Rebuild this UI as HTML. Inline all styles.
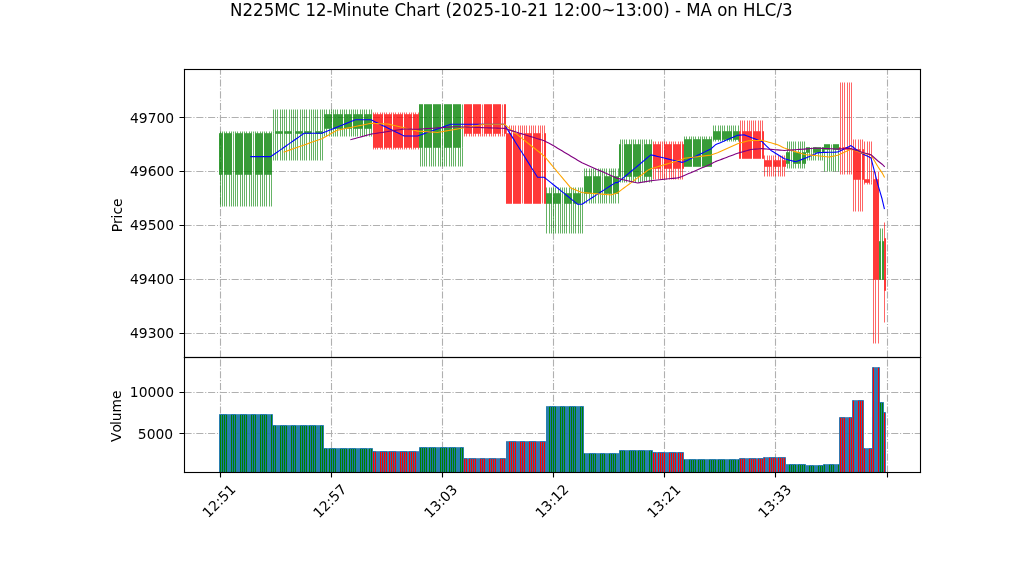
<!DOCTYPE html>
<html lang="en"><head><meta charset="utf-8"><title>N225MC 12-Minute Chart</title>
<style>html,body{margin:0;padding:0;background:#fff}svg{display:block}text{white-space:pre}</style>
</head><body>
<svg width="1022" height="575" viewBox="0 0 1022 575">
<defs><clipPath id="c1"><rect x="184" y="69" width="736" height="288"/></clipPath><clipPath id="c2"><rect x="184" y="357" width="736" height="115"/></clipPath></defs>
<rect width="1022" height="575" fill="#fff"/>
<g clip-path="url(#c1)" stroke="#b0b0b0" stroke-width="1.111" stroke-dasharray="7.111 1.778 1.111 1.778" fill="none">
<path d="M220.5 357.5V69.5"/>
<path d="M331.5 357.5V69.5"/>
<path d="M442.5 357.5V69.5"/>
<path d="M553.5 357.5V69.5"/>
<path d="M664.5 357.5V69.5"/>
<path d="M775.5 357.5V69.5"/>
<path d="M887.5 357.5V69.5"/>
<path d="M184.5 333.5H920.5"/>
<path d="M184.5 279.5H920.5"/>
<path d="M184.5 225.5H920.5"/>
<path d="M184.5 171.5H920.5"/>
<path d="M184.5 117.5H920.5"/>
</g>
<g clip-path="url(#c1)">
<g fill="#008000" fill-opacity="0.9" stroke="#008000" stroke-width="0.604" stroke-linejoin="miter">
<path d="M219.5 174.5V133.5H220.5V174.5Z"/>
<path d="M221.5 174.5V133.5H222.5V174.5Z"/>
<path d="M224.5 174.5V133.5H225.5V174.5Z"/>
<path d="M226.5 174.5V133.5H227.5V174.5Z"/>
<path d="M228.5 174.5V133.5H229.5V174.5Z"/>
<path d="M230.5 174.5V133.5H231.5V174.5Z"/>
<path d="M233.5 174.5V133.5"/>
<path d="M235.5 174.5V133.5H236.5V174.5Z"/>
<path d="M237.5 174.5V133.5H238.5V174.5Z"/>
<path d="M239.5 174.5V133.5H240.5V174.5Z"/>
<path d="M241.5 174.5V133.5H242.5V174.5Z"/>
<path d="M244.5 174.5V133.5H245.5V174.5Z"/>
<path d="M246.5 174.5V133.5H247.5V174.5Z"/>
<path d="M248.5 174.5V133.5H249.5V174.5Z"/>
<path d="M250.5 174.5V133.5H251.5V174.5Z"/>
<path d="M253.5 174.5V133.5"/>
<path d="M255.5 174.5V133.5H256.5V174.5Z"/>
<path d="M257.5 174.5V133.5H258.5V174.5Z"/>
<path d="M259.5 174.5V133.5H260.5V174.5Z"/>
<path d="M261.5 174.5V133.5H262.5V174.5Z"/>
<path d="M264.5 174.5V133.5H265.5V174.5Z"/>
<path d="M266.5 174.5V133.5H267.5V174.5Z"/>
<path d="M268.5 174.5V133.5H269.5V174.5Z"/>
<path d="M270.5 174.5V133.5H271.5V174.5Z"/>
<path d="M273.5 133.5V131.5"/>
<path d="M275.5 133.5V131.5H276.5V133.5Z"/>
<path d="M277.5 133.5V131.5H278.5V133.5Z"/>
<path d="M279.5 133.5V131.5H280.5V133.5Z"/>
<path d="M281.5 133.5V131.5H282.5V133.5Z"/>
<path d="M284.5 133.5V131.5H285.5V133.5Z"/>
<path d="M286.5 133.5V131.5H287.5V133.5Z"/>
<path d="M288.5 133.5V131.5H289.5V133.5Z"/>
<path d="M290.5 133.5V131.5H291.5V133.5Z"/>
<path d="M293.5 133.5V131.5"/>
<path d="M295.5 133.5V131.5H296.5V133.5Z"/>
<path d="M297.5 133.5V131.5H298.5V133.5Z"/>
<path d="M299.5 133.5V131.5H300.5V133.5Z"/>
<path d="M301.5 133.5V131.5H302.5V133.5Z"/>
<path d="M304.5 133.5V131.5H305.5V133.5Z"/>
<path d="M306.5 133.5V131.5H307.5V133.5Z"/>
<path d="M308.5 133.5V131.5H309.5V133.5Z"/>
<path d="M310.5 133.5V131.5H311.5V133.5Z"/>
<path d="M313.5 133.5V131.5"/>
<path d="M315.5 133.5V131.5H316.5V133.5Z"/>
<path d="M317.5 133.5V131.5H318.5V133.5Z"/>
<path d="M319.5 133.5V131.5H320.5V133.5Z"/>
<path d="M321.5 133.5V131.5H322.5V133.5Z"/>
<path d="M324.5 128.5V114.5H325.5V128.5Z"/>
<path d="M326.5 128.5V114.5H327.5V128.5Z"/>
<path d="M328.5 128.5V114.5H329.5V128.5Z"/>
<path d="M330.5 128.5V114.5H331.5V128.5Z"/>
<path d="M333.5 128.5V114.5H334.5V128.5Z"/>
<path d="M335.5 128.5V114.5H336.5V128.5Z"/>
<path d="M337.5 128.5V114.5H338.5V128.5Z"/>
<path d="M339.5 128.5V114.5H340.5V128.5Z"/>
<path d="M341.5 128.5V114.5H342.5V128.5Z"/>
<path d="M344.5 128.5V114.5H345.5V128.5Z"/>
<path d="M346.5 128.5V114.5H347.5V128.5Z"/>
<path d="M348.5 128.5V114.5H349.5V128.5Z"/>
<path d="M350.5 128.5V114.5H351.5V128.5Z"/>
<path d="M353.5 128.5V114.5H354.5V128.5Z"/>
<path d="M355.5 128.5V114.5H356.5V128.5Z"/>
<path d="M357.5 128.5V114.5H358.5V128.5Z"/>
<path d="M359.5 128.5V114.5H360.5V128.5Z"/>
<path d="M361.5 128.5V114.5H362.5V128.5Z"/>
<path d="M364.5 128.5V114.5H365.5V128.5Z"/>
<path d="M366.5 128.5V114.5H367.5V128.5Z"/>
<path d="M368.5 128.5V114.5H369.5V128.5Z"/>
<path d="M370.5 128.5V114.5H371.5V128.5Z"/>
<path d="M419.5 147.5V104.5H420.5V147.5Z"/>
<path d="M421.5 147.5V104.5H422.5V147.5Z"/>
<path d="M424.5 147.5V104.5H425.5V147.5Z"/>
<path d="M426.5 147.5V104.5H427.5V147.5Z"/>
<path d="M428.5 147.5V104.5H429.5V147.5Z"/>
<path d="M430.5 147.5V104.5H431.5V147.5Z"/>
<path d="M433.5 147.5V104.5H434.5V147.5Z"/>
<path d="M435.5 147.5V104.5H436.5V147.5Z"/>
<path d="M437.5 147.5V104.5H438.5V147.5Z"/>
<path d="M439.5 147.5V104.5H440.5V147.5Z"/>
<path d="M442.5 147.5V104.5"/>
<path d="M444.5 147.5V104.5H445.5V147.5Z"/>
<path d="M446.5 147.5V104.5H447.5V147.5Z"/>
<path d="M448.5 147.5V104.5H449.5V147.5Z"/>
<path d="M450.5 147.5V104.5H451.5V147.5Z"/>
<path d="M453.5 147.5V104.5H454.5V147.5Z"/>
<path d="M455.5 147.5V104.5H456.5V147.5Z"/>
<path d="M457.5 147.5V104.5H458.5V147.5Z"/>
<path d="M459.5 147.5V104.5H460.5V147.5Z"/>
<path d="M462.5 147.5V104.5"/>
<path d="M546.5 203.5V193.5H547.5V203.5Z"/>
<path d="M548.5 203.5V193.5H549.5V203.5Z"/>
<path d="M550.5 203.5V193.5H551.5V203.5Z"/>
<path d="M553.5 203.5V193.5H554.5V203.5Z"/>
<path d="M555.5 203.5V193.5H556.5V203.5Z"/>
<path d="M557.5 203.5V193.5H558.5V203.5Z"/>
<path d="M559.5 203.5V193.5H560.5V203.5Z"/>
<path d="M562.5 203.5V193.5"/>
<path d="M564.5 203.5V193.5H565.5V203.5Z"/>
<path d="M566.5 203.5V193.5H567.5V203.5Z"/>
<path d="M568.5 203.5V193.5H569.5V203.5Z"/>
<path d="M570.5 203.5V193.5H571.5V203.5Z"/>
<path d="M573.5 203.5V193.5H574.5V203.5Z"/>
<path d="M575.5 203.5V193.5H576.5V203.5Z"/>
<path d="M577.5 203.5V193.5H578.5V203.5Z"/>
<path d="M579.5 203.5V193.5H580.5V203.5Z"/>
<path d="M582.5 203.5V193.5"/>
<path d="M584.5 193.5V176.5H585.5V193.5Z"/>
<path d="M586.5 193.5V176.5H587.5V193.5Z"/>
<path d="M588.5 193.5V176.5H589.5V193.5Z"/>
<path d="M590.5 193.5V176.5H591.5V193.5Z"/>
<path d="M593.5 193.5V176.5H594.5V193.5Z"/>
<path d="M595.5 193.5V176.5H596.5V193.5Z"/>
<path d="M597.5 193.5V176.5H598.5V193.5Z"/>
<path d="M599.5 193.5V176.5H600.5V193.5Z"/>
<path d="M602.5 193.5V176.5"/>
<path d="M604.5 193.5V176.5H605.5V193.5Z"/>
<path d="M606.5 193.5V176.5H607.5V193.5Z"/>
<path d="M608.5 193.5V176.5H609.5V193.5Z"/>
<path d="M610.5 193.5V176.5H611.5V193.5Z"/>
<path d="M613.5 193.5V176.5H614.5V193.5Z"/>
<path d="M615.5 193.5V176.5H616.5V193.5Z"/>
<path d="M617.5 193.5V176.5H618.5V193.5Z"/>
<path d="M619.5 176.5V144.5H620.5V176.5Z"/>
<path d="M622.5 176.5V144.5"/>
<path d="M624.5 176.5V144.5H625.5V176.5Z"/>
<path d="M626.5 176.5V144.5H627.5V176.5Z"/>
<path d="M628.5 176.5V144.5H629.5V176.5Z"/>
<path d="M630.5 176.5V144.5H631.5V176.5Z"/>
<path d="M633.5 176.5V144.5H634.5V176.5Z"/>
<path d="M635.5 176.5V144.5H636.5V176.5Z"/>
<path d="M637.5 176.5V144.5H638.5V176.5Z"/>
<path d="M639.5 176.5V144.5H640.5V176.5Z"/>
<path d="M642.5 176.5V144.5"/>
<path d="M644.5 176.5V144.5H645.5V176.5Z"/>
<path d="M646.5 176.5V144.5H647.5V176.5Z"/>
<path d="M648.5 176.5V144.5H649.5V176.5Z"/>
<path d="M650.5 176.5V144.5H651.5V176.5Z"/>
<path d="M684.5 166.5V139.5H685.5V166.5Z"/>
<path d="M686.5 166.5V139.5H687.5V166.5Z"/>
<path d="M688.5 166.5V139.5H689.5V166.5Z"/>
<path d="M690.5 166.5V139.5H691.5V166.5Z"/>
<path d="M693.5 166.5V139.5H694.5V166.5Z"/>
<path d="M695.5 166.5V139.5H696.5V166.5Z"/>
<path d="M697.5 166.5V139.5H698.5V166.5Z"/>
<path d="M699.5 166.5V139.5H700.5V166.5Z"/>
<path d="M702.5 166.5V139.5H703.5V166.5Z"/>
<path d="M704.5 166.5V139.5H705.5V166.5Z"/>
<path d="M706.5 166.5V139.5H707.5V166.5Z"/>
<path d="M708.5 166.5V139.5H709.5V166.5Z"/>
<path d="M710.5 166.5V139.5H711.5V166.5Z"/>
<path d="M713.5 139.5V131.5H714.5V139.5Z"/>
<path d="M715.5 139.5V131.5H716.5V139.5Z"/>
<path d="M717.5 139.5V131.5H718.5V139.5Z"/>
<path d="M719.5 139.5V131.5H720.5V139.5Z"/>
<path d="M722.5 139.5V131.5H723.5V139.5Z"/>
<path d="M724.5 139.5V131.5H725.5V139.5Z"/>
<path d="M726.5 139.5V131.5H727.5V139.5Z"/>
<path d="M728.5 139.5V131.5H729.5V139.5Z"/>
<path d="M730.5 139.5V131.5H731.5V139.5Z"/>
<path d="M733.5 139.5V131.5H734.5V139.5Z"/>
<path d="M735.5 139.5V131.5H736.5V139.5Z"/>
<path d="M737.5 139.5V131.5H738.5V139.5Z"/>
<path d="M786.5 163.5V152.5H787.5V163.5Z"/>
<path d="M788.5 163.5V152.5H789.5V163.5Z"/>
<path d="M791.5 163.5V152.5"/>
<path d="M793.5 163.5V152.5H794.5V163.5Z"/>
<path d="M795.5 163.5V152.5H796.5V163.5Z"/>
<path d="M797.5 163.5V152.5H798.5V163.5Z"/>
<path d="M799.5 163.5V152.5H800.5V163.5Z"/>
<path d="M802.5 163.5V152.5H803.5V163.5Z"/>
<path d="M804.5 163.5V152.5H805.5V163.5Z"/>
<path d="M806.5 152.5V147.5H807.5V152.5Z"/>
<path d="M808.5 152.5V147.5H809.5V152.5Z"/>
<path d="M811.5 152.5V147.5"/>
<path d="M813.5 152.5V147.5H814.5V152.5Z"/>
<path d="M815.5 152.5V147.5H816.5V152.5Z"/>
<path d="M817.5 152.5V147.5H818.5V152.5Z"/>
<path d="M819.5 152.5V147.5H820.5V152.5Z"/>
<path d="M822.5 152.5V147.5H823.5V152.5Z"/>
<path d="M824.5 149.5V144.5H825.5V149.5Z"/>
<path d="M826.5 149.5V144.5H827.5V149.5Z"/>
<path d="M828.5 149.5V144.5H829.5V149.5Z"/>
<path d="M831.5 149.5V144.5"/>
<path d="M833.5 149.5V144.5H834.5V149.5Z"/>
<path d="M835.5 149.5V144.5H836.5V149.5Z"/>
<path d="M837.5 149.5V144.5H838.5V149.5Z"/>
<path d="M879.5 279.5V241.5H880.5V279.5Z"/>
<path d="M882.5 279.5V241.5H883.5V279.5Z"/>
</g>
<g fill="#ff0000" fill-opacity="0.9" stroke="#ff0000" stroke-width="0.604" stroke-linejoin="miter">
<path d="M373.5 114.5V147.5H374.5V114.5Z"/>
<path d="M375.5 114.5V147.5H376.5V114.5Z"/>
<path d="M377.5 114.5V147.5H378.5V114.5Z"/>
<path d="M379.5 114.5V147.5H380.5V114.5Z"/>
<path d="M381.5 114.5V147.5H382.5V114.5Z"/>
<path d="M384.5 114.5V147.5H385.5V114.5Z"/>
<path d="M386.5 114.5V147.5H387.5V114.5Z"/>
<path d="M388.5 114.5V147.5H389.5V114.5Z"/>
<path d="M390.5 114.5V147.5H391.5V114.5Z"/>
<path d="M393.5 114.5V147.5H394.5V114.5Z"/>
<path d="M395.5 114.5V147.5H396.5V114.5Z"/>
<path d="M397.5 114.5V147.5H398.5V114.5Z"/>
<path d="M399.5 114.5V147.5H400.5V114.5Z"/>
<path d="M401.5 114.5V147.5H402.5V114.5Z"/>
<path d="M404.5 114.5V147.5H405.5V114.5Z"/>
<path d="M406.5 114.5V147.5H407.5V114.5Z"/>
<path d="M408.5 114.5V147.5H409.5V114.5Z"/>
<path d="M410.5 114.5V147.5H411.5V114.5Z"/>
<path d="M413.5 114.5V147.5H414.5V114.5Z"/>
<path d="M415.5 114.5V147.5H416.5V114.5Z"/>
<path d="M417.5 114.5V147.5H418.5V114.5Z"/>
<path d="M464.5 104.5V133.5H465.5V104.5Z"/>
<path d="M466.5 104.5V133.5H467.5V104.5Z"/>
<path d="M468.5 104.5V133.5H469.5V104.5Z"/>
<path d="M470.5 104.5V133.5H471.5V104.5Z"/>
<path d="M473.5 104.5V133.5H474.5V104.5Z"/>
<path d="M475.5 104.5V133.5H476.5V104.5Z"/>
<path d="M477.5 104.5V133.5H478.5V104.5Z"/>
<path d="M479.5 104.5V133.5H480.5V104.5Z"/>
<path d="M482.5 104.5V133.5"/>
<path d="M484.5 104.5V133.5H485.5V104.5Z"/>
<path d="M486.5 104.5V133.5H487.5V104.5Z"/>
<path d="M488.5 104.5V133.5H489.5V104.5Z"/>
<path d="M490.5 104.5V133.5H491.5V104.5Z"/>
<path d="M493.5 104.5V133.5H494.5V104.5Z"/>
<path d="M495.5 104.5V133.5H496.5V104.5Z"/>
<path d="M497.5 104.5V133.5H498.5V104.5Z"/>
<path d="M499.5 104.5V133.5H500.5V104.5Z"/>
<path d="M502.5 104.5V133.5"/>
<path d="M504.5 104.5V133.5H505.5V104.5Z"/>
<path d="M506.5 133.5V203.5H507.5V133.5Z"/>
<path d="M508.5 133.5V203.5H509.5V133.5Z"/>
<path d="M510.5 133.5V203.5H511.5V133.5Z"/>
<path d="M513.5 133.5V203.5H514.5V133.5Z"/>
<path d="M515.5 133.5V203.5H516.5V133.5Z"/>
<path d="M517.5 133.5V203.5H518.5V133.5Z"/>
<path d="M519.5 133.5V203.5H520.5V133.5Z"/>
<path d="M522.5 133.5V203.5"/>
<path d="M524.5 133.5V203.5H525.5V133.5Z"/>
<path d="M526.5 133.5V203.5H527.5V133.5Z"/>
<path d="M528.5 133.5V203.5H529.5V133.5Z"/>
<path d="M530.5 133.5V203.5H531.5V133.5Z"/>
<path d="M533.5 133.5V203.5H534.5V133.5Z"/>
<path d="M535.5 133.5V203.5H536.5V133.5Z"/>
<path d="M537.5 133.5V203.5H538.5V133.5Z"/>
<path d="M539.5 133.5V203.5H540.5V133.5Z"/>
<path d="M542.5 133.5V203.5"/>
<path d="M544.5 133.5V203.5H545.5V133.5Z"/>
<path d="M653.5 144.5V168.5H654.5V144.5Z"/>
<path d="M655.5 144.5V168.5H656.5V144.5Z"/>
<path d="M657.5 144.5V168.5H658.5V144.5Z"/>
<path d="M659.5 144.5V168.5H660.5V144.5Z"/>
<path d="M662.5 144.5V168.5"/>
<path d="M664.5 144.5V168.5H665.5V144.5Z"/>
<path d="M666.5 144.5V168.5H667.5V144.5Z"/>
<path d="M668.5 144.5V168.5H669.5V144.5Z"/>
<path d="M670.5 144.5V168.5H671.5V144.5Z"/>
<path d="M673.5 144.5V168.5H674.5V144.5Z"/>
<path d="M675.5 144.5V168.5H676.5V144.5Z"/>
<path d="M677.5 144.5V168.5H678.5V144.5Z"/>
<path d="M679.5 144.5V168.5H680.5V144.5Z"/>
<path d="M682.5 144.5V168.5H683.5V144.5Z"/>
<path d="M739.5 131.5V158.5H740.5V131.5Z"/>
<path d="M742.5 131.5V158.5H743.5V131.5Z"/>
<path d="M744.5 131.5V158.5H745.5V131.5Z"/>
<path d="M746.5 131.5V158.5H747.5V131.5Z"/>
<path d="M748.5 131.5V158.5H749.5V131.5Z"/>
<path d="M750.5 131.5V158.5H751.5V131.5Z"/>
<path d="M753.5 131.5V158.5H754.5V131.5Z"/>
<path d="M755.5 131.5V158.5H756.5V131.5Z"/>
<path d="M757.5 131.5V158.5H758.5V131.5Z"/>
<path d="M759.5 131.5V158.5H760.5V131.5Z"/>
<path d="M762.5 131.5V158.5H763.5V131.5Z"/>
<path d="M764.5 160.5V166.5H765.5V160.5Z"/>
<path d="M766.5 160.5V166.5H767.5V160.5Z"/>
<path d="M768.5 160.5V166.5H769.5V160.5Z"/>
<path d="M770.5 160.5V166.5H771.5V160.5Z"/>
<path d="M773.5 160.5V166.5H774.5V160.5Z"/>
<path d="M775.5 160.5V166.5H776.5V160.5Z"/>
<path d="M777.5 160.5V166.5H778.5V160.5Z"/>
<path d="M779.5 160.5V166.5H780.5V160.5Z"/>
<path d="M782.5 160.5V166.5H783.5V160.5Z"/>
<path d="M784.5 160.5V166.5H785.5V160.5Z"/>
<path d="M839.5 147.5V149.5H840.5V147.5Z"/>
<path d="M842.5 147.5V149.5H843.5V147.5Z"/>
<path d="M844.5 147.5V149.5H845.5V147.5Z"/>
<path d="M846.5 147.5V149.5H847.5V147.5Z"/>
<path d="M848.5 147.5V149.5H849.5V147.5Z"/>
<path d="M851.5 147.5V149.5"/>
<path d="M853.5 149.5V179.5H854.5V149.5Z"/>
<path d="M855.5 149.5V179.5H856.5V149.5Z"/>
<path d="M857.5 149.5V179.5H858.5V149.5Z"/>
<path d="M859.5 149.5V179.5H860.5V149.5Z"/>
<path d="M862.5 149.5V179.5H863.5V149.5Z"/>
<path d="M864.5 179.5V182.5H865.5V179.5Z"/>
<path d="M866.5 179.5V182.5H867.5V179.5Z"/>
<path d="M868.5 179.5V182.5H869.5V179.5Z"/>
<path d="M871.5 179.5V182.5"/>
<path d="M873.5 179.5V279.5H874.5V179.5Z"/>
<path d="M875.5 179.5V279.5H876.5V179.5Z"/>
<path d="M877.5 179.5V279.5H878.5V179.5Z"/>
<path d="M884.5 238.5V290.5H885.5V238.5Z"/>
</g>
<path fill="none" stroke="#008000" stroke-width="0.604" d="M220.5 206.5V174.5M220.5 131.5V133.5M222.5 206.5V174.5M222.5 131.5V133.5M224.5 206.5V174.5M224.5 131.5V133.5M226.5 206.5V174.5M226.5 131.5V133.5M229.5 206.5V174.5M229.5 131.5V133.5M231.5 206.5V174.5M231.5 131.5V133.5M233.5 206.5V174.5M233.5 131.5V133.5M235.5 206.5V174.5M235.5 131.5V133.5M237.5 206.5V174.5M237.5 131.5V133.5M240.5 206.5V174.5M240.5 131.5V133.5M242.5 206.5V174.5M242.5 131.5V133.5M244.5 206.5V174.5M244.5 131.5V133.5M246.5 206.5V174.5M246.5 131.5V133.5M249.5 206.5V174.5M249.5 131.5V133.5M251.5 206.5V174.5M251.5 131.5V133.5M253.5 206.5V174.5M253.5 131.5V133.5M255.5 206.5V174.5M255.5 131.5V133.5M257.5 206.5V174.5M257.5 131.5V133.5M260.5 206.5V174.5M260.5 131.5V133.5M262.5 206.5V174.5M262.5 131.5V133.5M264.5 206.5V174.5M264.5 131.5V133.5M266.5 206.5V174.5M266.5 131.5V133.5M269.5 206.5V174.5M269.5 131.5V133.5M271.5 206.5V174.5M271.5 131.5V133.5M273.5 160.5V133.5M273.5 109.5V131.5M275.5 160.5V133.5M275.5 109.5V131.5M277.5 160.5V133.5M277.5 109.5V131.5M280.5 160.5V133.5M280.5 109.5V131.5M282.5 160.5V133.5M282.5 109.5V131.5M284.5 160.5V133.5M284.5 109.5V131.5M286.5 160.5V133.5M286.5 109.5V131.5M289.5 160.5V133.5M289.5 109.5V131.5M291.5 160.5V133.5M291.5 109.5V131.5M293.5 160.5V133.5M293.5 109.5V131.5M295.5 160.5V133.5M295.5 109.5V131.5M297.5 160.5V133.5M297.5 109.5V131.5M300.5 160.5V133.5M300.5 109.5V131.5M302.5 160.5V133.5M302.5 109.5V131.5M304.5 160.5V133.5M304.5 109.5V131.5M306.5 160.5V133.5M306.5 109.5V131.5M309.5 160.5V133.5M309.5 109.5V131.5M311.5 160.5V133.5M311.5 109.5V131.5M313.5 160.5V133.5M313.5 109.5V131.5M315.5 160.5V133.5M315.5 109.5V131.5M317.5 160.5V133.5M317.5 109.5V131.5M320.5 160.5V133.5M320.5 109.5V131.5M322.5 160.5V133.5M322.5 109.5V131.5M324.5 136.5V128.5M324.5 109.5V114.5M326.5 136.5V128.5M326.5 109.5V114.5M329.5 136.5V128.5M329.5 109.5V114.5M331.5 136.5V128.5M331.5 109.5V114.5M333.5 136.5V128.5M333.5 109.5V114.5M335.5 136.5V128.5M335.5 109.5V114.5M337.5 136.5V128.5M337.5 109.5V114.5M340.5 136.5V128.5M340.5 109.5V114.5M342.5 136.5V128.5M342.5 109.5V114.5M344.5 136.5V128.5M344.5 109.5V114.5M346.5 136.5V128.5M346.5 109.5V114.5M349.5 136.5V128.5M349.5 109.5V114.5M351.5 136.5V128.5M351.5 109.5V114.5M353.5 136.5V128.5M353.5 109.5V114.5M355.5 136.5V128.5M355.5 109.5V114.5M357.5 136.5V128.5M357.5 109.5V114.5M360.5 136.5V128.5M360.5 109.5V114.5M362.5 136.5V128.5M362.5 109.5V114.5M364.5 136.5V128.5M364.5 109.5V114.5M366.5 136.5V128.5M366.5 109.5V114.5M369.5 136.5V128.5M369.5 109.5V114.5M371.5 136.5V128.5M371.5 109.5V114.5M420.5 166.5V147.5M422.5 166.5V147.5M424.5 166.5V147.5M426.5 166.5V147.5M429.5 166.5V147.5M431.5 166.5V147.5M433.5 166.5V147.5M435.5 166.5V147.5M438.5 166.5V147.5M440.5 166.5V147.5M442.5 166.5V147.5M444.5 166.5V147.5M446.5 166.5V147.5M449.5 166.5V147.5M451.5 166.5V147.5M453.5 166.5V147.5M455.5 166.5V147.5M458.5 166.5V147.5M460.5 166.5V147.5M462.5 166.5V147.5M546.5 233.5V203.5M546.5 187.5V193.5M549.5 233.5V203.5M549.5 187.5V193.5M551.5 233.5V203.5M551.5 187.5V193.5M553.5 233.5V203.5M553.5 187.5V193.5M555.5 233.5V203.5M555.5 187.5V193.5M558.5 233.5V203.5M558.5 187.5V193.5M560.5 233.5V203.5M560.5 187.5V193.5M562.5 233.5V203.5M562.5 187.5V193.5M564.5 233.5V203.5M564.5 187.5V193.5M566.5 233.5V203.5M566.5 187.5V193.5M569.5 233.5V203.5M569.5 187.5V193.5M571.5 233.5V203.5M571.5 187.5V193.5M573.5 233.5V203.5M573.5 187.5V193.5M575.5 233.5V203.5M575.5 187.5V193.5M578.5 233.5V203.5M578.5 187.5V193.5M580.5 233.5V203.5M580.5 187.5V193.5M582.5 233.5V203.5M582.5 187.5V193.5M584.5 203.5V193.5M584.5 168.5V176.5M586.5 203.5V193.5M586.5 168.5V176.5M589.5 203.5V193.5M589.5 168.5V176.5M591.5 203.5V193.5M591.5 168.5V176.5M593.5 203.5V193.5M593.5 168.5V176.5M595.5 203.5V193.5M595.5 168.5V176.5M598.5 203.5V193.5M598.5 168.5V176.5M600.5 203.5V193.5M600.5 168.5V176.5M602.5 203.5V193.5M602.5 168.5V176.5M604.5 203.5V193.5M604.5 168.5V176.5M606.5 203.5V193.5M606.5 168.5V176.5M609.5 203.5V193.5M609.5 168.5V176.5M611.5 203.5V193.5M611.5 168.5V176.5M613.5 203.5V193.5M613.5 168.5V176.5M615.5 203.5V193.5M615.5 168.5V176.5M618.5 203.5V193.5M618.5 168.5V176.5M620.5 182.5V176.5M620.5 139.5V144.5M622.5 182.5V176.5M622.5 139.5V144.5M624.5 182.5V176.5M624.5 139.5V144.5M626.5 182.5V176.5M626.5 139.5V144.5M629.5 182.5V176.5M629.5 139.5V144.5M631.5 182.5V176.5M631.5 139.5V144.5M633.5 182.5V176.5M633.5 139.5V144.5M635.5 182.5V176.5M635.5 139.5V144.5M638.5 182.5V176.5M638.5 139.5V144.5M640.5 182.5V176.5M640.5 139.5V144.5M642.5 182.5V176.5M642.5 139.5V144.5M644.5 182.5V176.5M644.5 139.5V144.5M646.5 182.5V176.5M646.5 139.5V144.5M649.5 182.5V176.5M649.5 139.5V144.5M651.5 182.5V176.5M651.5 139.5V144.5M684.5 136.5V139.5M686.5 136.5V139.5M689.5 136.5V139.5M691.5 136.5V139.5M693.5 136.5V139.5M695.5 136.5V139.5M698.5 136.5V139.5M700.5 136.5V139.5M702.5 136.5V139.5M704.5 136.5V139.5M706.5 136.5V139.5M709.5 136.5V139.5M711.5 136.5V139.5M713.5 141.5V139.5M713.5 125.5V131.5M715.5 141.5V139.5M715.5 125.5V131.5M718.5 141.5V139.5M718.5 125.5V131.5M720.5 141.5V139.5M720.5 125.5V131.5M722.5 141.5V139.5M722.5 125.5V131.5M724.5 141.5V139.5M724.5 125.5V131.5M727.5 141.5V139.5M727.5 125.5V131.5M729.5 141.5V139.5M729.5 125.5V131.5M731.5 141.5V139.5M731.5 125.5V131.5M733.5 141.5V139.5M733.5 125.5V131.5M735.5 141.5V139.5M735.5 125.5V131.5M738.5 141.5V139.5M738.5 125.5V131.5M787.5 168.5V163.5M787.5 141.5V152.5M789.5 168.5V163.5M789.5 141.5V152.5M791.5 168.5V163.5M791.5 141.5V152.5M793.5 168.5V163.5M793.5 141.5V152.5M795.5 168.5V163.5M795.5 141.5V152.5M798.5 168.5V163.5M798.5 141.5V152.5M800.5 168.5V163.5M800.5 141.5V152.5M802.5 168.5V163.5M802.5 141.5V152.5M804.5 168.5V163.5M804.5 141.5V152.5M807.5 160.5V152.5M809.5 160.5V152.5M811.5 160.5V152.5M813.5 160.5V152.5M815.5 160.5V152.5M818.5 160.5V152.5M820.5 160.5V152.5M822.5 160.5V152.5M824.5 171.5V149.5M827.5 171.5V149.5M829.5 171.5V149.5M831.5 171.5V149.5M833.5 171.5V149.5M835.5 171.5V149.5M838.5 171.5V149.5M880.5 228.5V241.5M882.5 228.5V241.5"/>
<path fill="none" stroke="#ff0000" stroke-width="0.604" d="M373.5 149.5V147.5M373.5 112.5V114.5M375.5 149.5V147.5M375.5 112.5V114.5M377.5 149.5V147.5M377.5 112.5V114.5M380.5 149.5V147.5M380.5 112.5V114.5M382.5 149.5V147.5M382.5 112.5V114.5M384.5 149.5V147.5M384.5 112.5V114.5M386.5 149.5V147.5M386.5 112.5V114.5M389.5 149.5V147.5M389.5 112.5V114.5M391.5 149.5V147.5M391.5 112.5V114.5M393.5 149.5V147.5M393.5 112.5V114.5M395.5 149.5V147.5M395.5 112.5V114.5M398.5 149.5V147.5M398.5 112.5V114.5M400.5 149.5V147.5M400.5 112.5V114.5M402.5 149.5V147.5M402.5 112.5V114.5M404.5 149.5V147.5M404.5 112.5V114.5M406.5 149.5V147.5M406.5 112.5V114.5M409.5 149.5V147.5M409.5 112.5V114.5M411.5 149.5V147.5M411.5 112.5V114.5M413.5 149.5V147.5M413.5 112.5V114.5M415.5 149.5V147.5M415.5 112.5V114.5M418.5 149.5V147.5M418.5 112.5V114.5M464.5 136.5V133.5M466.5 136.5V133.5M469.5 136.5V133.5M471.5 136.5V133.5M473.5 136.5V133.5M475.5 136.5V133.5M478.5 136.5V133.5M480.5 136.5V133.5M482.5 136.5V133.5M484.5 136.5V133.5M486.5 136.5V133.5M489.5 136.5V133.5M491.5 136.5V133.5M493.5 136.5V133.5M495.5 136.5V133.5M498.5 136.5V133.5M500.5 136.5V133.5M502.5 136.5V133.5M504.5 136.5V133.5M506.5 125.5V133.5M509.5 125.5V133.5M511.5 125.5V133.5M513.5 125.5V133.5M515.5 125.5V133.5M518.5 125.5V133.5M520.5 125.5V133.5M522.5 125.5V133.5M524.5 125.5V133.5M526.5 125.5V133.5M529.5 125.5V133.5M531.5 125.5V133.5M533.5 125.5V133.5M535.5 125.5V133.5M538.5 125.5V133.5M540.5 125.5V133.5M542.5 125.5V133.5M544.5 125.5V133.5M653.5 179.5V168.5M653.5 141.5V144.5M655.5 179.5V168.5M655.5 141.5V144.5M658.5 179.5V168.5M658.5 141.5V144.5M660.5 179.5V168.5M660.5 141.5V144.5M662.5 179.5V168.5M662.5 141.5V144.5M664.5 179.5V168.5M664.5 141.5V144.5M666.5 179.5V168.5M666.5 141.5V144.5M669.5 179.5V168.5M669.5 141.5V144.5M671.5 179.5V168.5M671.5 141.5V144.5M673.5 179.5V168.5M673.5 141.5V144.5M675.5 179.5V168.5M675.5 141.5V144.5M678.5 179.5V168.5M678.5 141.5V144.5M680.5 179.5V168.5M680.5 141.5V144.5M682.5 179.5V168.5M682.5 141.5V144.5M740.5 120.5V131.5M742.5 120.5V131.5M744.5 120.5V131.5M747.5 120.5V131.5M749.5 120.5V131.5M751.5 120.5V131.5M753.5 120.5V131.5M755.5 120.5V131.5M758.5 120.5V131.5M760.5 120.5V131.5M762.5 120.5V131.5M764.5 176.5V166.5M764.5 155.5V160.5M767.5 176.5V166.5M767.5 155.5V160.5M769.5 176.5V166.5M769.5 155.5V160.5M771.5 176.5V166.5M771.5 155.5V160.5M773.5 176.5V166.5M773.5 155.5V160.5M775.5 176.5V166.5M775.5 155.5V160.5M778.5 176.5V166.5M778.5 155.5V160.5M780.5 176.5V166.5M780.5 155.5V160.5M782.5 176.5V166.5M782.5 155.5V160.5M784.5 176.5V166.5M784.5 155.5V160.5M840.5 174.5V149.5M840.5 82.5V147.5M842.5 174.5V149.5M842.5 82.5V147.5M844.5 174.5V149.5M844.5 82.5V147.5M847.5 174.5V149.5M847.5 82.5V147.5M849.5 174.5V149.5M849.5 82.5V147.5M851.5 174.5V149.5M851.5 82.5V147.5M853.5 211.5V179.5M853.5 139.5V149.5M855.5 211.5V179.5M855.5 139.5V149.5M858.5 211.5V179.5M858.5 139.5V149.5M860.5 211.5V179.5M860.5 139.5V149.5M862.5 211.5V179.5M862.5 139.5V149.5M864.5 184.5V182.5M864.5 141.5V179.5M867.5 184.5V182.5M867.5 141.5V179.5M869.5 184.5V182.5M869.5 141.5V179.5M871.5 184.5V182.5M871.5 141.5V179.5M873.5 343.5V279.5M873.5 171.5V179.5M875.5 343.5V279.5M875.5 171.5V179.5M878.5 343.5V279.5M878.5 171.5V179.5M884.5 322.5V290.5M884.5 222.5V238.5"/>
<polyline fill="none" stroke="#0000ff" stroke-width="1.099" stroke-linejoin="round" stroke-linecap="square" points="250.791,156.615 253.014,156.615 255.237,156.615 257.46,156.615 259.682,156.615 261.905,156.615 264.128,156.615 266.351,156.615 268.574,156.615 270.797,156.615 273.02,155.058 275.243,153.502 277.466,151.945 279.689,150.388 281.912,148.831 284.135,147.274 286.358,145.718 288.581,144.161 290.804,142.604 293.027,141.047 295.25,139.49 297.473,137.934 299.696,136.377 301.918,134.82 304.141,133.263 306.364,133.263 308.587,133.263 310.81,133.263 313.033,133.263 315.256,133.263 317.479,133.263 319.702,133.263 321.925,133.263 324.148,132.365 326.371,131.467 328.594,130.569 330.817,129.67 333.04,128.772 335.263,127.874 337.486,126.976 339.709,126.078 341.931,125.18 344.154,124.282 346.377,123.383 348.6,122.485 350.823,121.587 353.046,120.689 355.269,119.791 357.492,119.791 359.715,119.791 361.938,119.791 364.161,119.791 366.384,119.791 368.607,119.791 370.83,119.791 373.053,120.869 375.276,121.946 377.499,123.024 379.722,124.102 381.945,125.18 384.167,126.257 386.39,127.335 388.613,128.413 390.836,129.491 393.059,130.569 395.282,131.646 397.505,132.724 399.728,133.802 401.951,134.88 404.174,135.958 406.397,135.958 408.62,135.958 410.843,135.958 413.066,135.958 415.289,135.958 417.512,135.958 419.735,135.179 421.958,134.401 424.181,133.622 426.403,132.844 428.626,132.066 430.849,131.287 433.072,130.509 435.295,129.73 437.518,128.952 439.741,128.174 441.964,127.395 444.187,126.617 446.41,125.838 448.633,125.06 450.856,124.282 453.079,124.282 455.302,124.282 457.525,124.282 459.748,124.282 461.971,124.282 464.194,124.282 466.417,124.282 468.639,124.282 470.862,124.282 473.085,124.282 475.308,124.282 477.531,124.282 479.754,124.282 481.977,124.282 484.2,124.282 486.423,124.282 488.646,124.282 490.869,124.282 493.092,124.282 495.315,124.282 497.538,124.282 499.761,124.282 501.984,124.282 504.207,124.282 506.43,127.814 508.653,131.347 510.875,134.88 513.098,138.413 515.321,141.945 517.544,145.478 519.767,149.011 521.99,152.544 524.213,156.076 526.436,159.609 528.659,163.142 530.882,166.675 533.105,170.207 535.328,173.74 537.551,177.273 539.774,177.273 541.997,177.273 544.22,177.273 546.443,179.069 548.666,180.865 550.889,182.662 553.111,184.458 555.334,186.254 557.557,188.051 559.78,189.847 562.003,191.643 564.226,193.44 566.449,195.236 568.672,197.032 570.895,198.829 573.118,200.625 575.341,202.421 577.564,204.218 579.787,204.218 582.01,204.218 584.233,202.78 586.456,201.343 588.679,199.906 590.902,198.469 593.125,197.032 595.347,195.595 597.57,194.158 599.793,192.721 602.016,191.284 604.239,189.847 606.462,188.41 608.685,186.973 610.908,185.536 613.131,184.099 615.354,182.662 617.577,182.662 619.8,180.806 622.023,178.949 624.246,177.093 626.469,175.237 628.692,173.381 630.915,171.525 633.138,169.668 635.361,167.812 637.583,165.956 639.806,164.1 642.029,162.244 644.252,160.387 646.475,158.531 648.698,156.675 650.921,154.819 653.144,155.358 655.367,155.897 657.59,156.436 659.813,156.974 662.036,157.513 664.259,158.052 666.482,158.591 668.705,159.13 670.928,159.669 673.151,160.208 675.374,160.747 677.597,161.286 679.819,161.825 682.042,162.363 684.265,161.825 686.488,160.747 688.711,159.669 690.934,158.591 693.157,157.513 695.38,156.436 697.603,155.358 699.826,154.28 702.049,153.202 704.272,152.124 706.495,151.047 708.718,149.969 710.941,148.891 713.164,146.855 715.387,144.819 717.61,143.861 719.833,142.903 722.055,141.945 724.278,140.987 726.501,140.029 728.724,139.071 730.947,138.113 733.17,137.155 735.393,136.197 737.616,135.239 739.839,135.119 742.062,135 744.285,134.88 746.508,135.718 748.731,136.556 750.954,137.395 753.177,138.233 755.4,139.071 757.623,139.909 759.846,140.748 762.069,141.586 764.291,143.801 766.514,146.017 768.737,148.232 770.96,150.448 773.183,151.825 775.406,153.202 777.629,154.579 779.852,155.957 782.075,157.334 784.298,158.711 786.521,159.31 788.744,159.908 790.967,160.507 793.19,161.106 795.413,161.705 797.636,160.926 799.859,160.148 802.082,159.37 804.304,158.591 806.527,157.633 808.75,156.675 810.973,155.717 813.196,154.759 815.419,153.801 817.642,152.843 819.865,152.663 822.088,152.484 824.311,152.424 826.534,152.364 828.757,152.304 830.98,152.244 833.203,152.184 835.426,152.124 837.649,152.065 839.872,150.987 842.095,149.909 844.318,148.831 846.54,147.753 848.763,146.676 850.986,145.598 853.209,147.274 855.432,148.951 857.655,150.508 859.878,152.065 862.101,153.621 864.324,154.699 866.547,155.777 868.77,156.855 870.993,157.932 873.216,166.555 875.439,175.177 877.662,183.799 879.885,191.404 882.108,199.008 884.331,208.529"/>
<polyline fill="none" stroke="#ffa500" stroke-width="1.099" stroke-linejoin="round" stroke-linecap="square" points="284.135,151.945 286.358,151.166 288.581,150.388 290.804,149.61 293.027,148.831 295.25,148.053 297.473,147.274 299.696,146.496 301.918,145.718 304.141,144.939 306.364,144.161 308.587,143.382 310.81,142.604 313.033,141.826 315.256,141.047 317.479,140.269 319.702,139.49 321.925,138.712 324.148,137.484 326.371,136.257 328.594,135.029 330.817,133.802 333.04,132.575 335.263,131.347 337.486,130.12 339.709,129.67 341.931,129.221 344.154,128.772 346.377,128.323 348.6,127.874 350.823,127.425 353.046,126.976 355.269,126.527 357.492,126.078 359.715,125.629 361.938,125.18 364.161,124.731 366.384,124.282 368.607,123.832 370.83,123.383 373.053,123.473 375.276,123.563 377.499,123.653 379.722,123.743 381.945,123.832 384.167,123.922 386.39,124.012 388.613,124.102 390.836,124.641 393.059,125.18 395.282,125.719 397.505,126.257 399.728,126.796 401.951,127.335 404.174,127.874 406.397,128.413 408.62,128.952 410.843,129.491 413.066,130.03 415.289,130.569 417.512,131.108 419.735,131.257 421.958,131.407 424.181,131.557 426.403,131.706 428.626,131.856 430.849,132.006 433.072,132.155 435.295,132.305 437.518,132.455 439.741,132.066 441.964,131.676 444.187,131.287 446.41,130.898 448.633,130.509 450.856,130.12 453.079,129.73 455.302,129.341 457.525,128.952 459.748,128.563 461.971,128.174 464.194,127.784 466.417,127.395 468.639,127.006 470.862,126.617 473.085,126.228 475.308,125.838 477.531,125.449 479.754,125.06 481.977,124.671 484.2,124.282 486.423,124.282 488.646,124.282 490.869,124.282 493.092,124.282 495.315,124.282 497.538,124.282 499.761,124.282 501.984,124.282 504.207,124.282 506.43,126.048 508.653,127.814 510.875,129.581 513.098,131.347 515.321,133.113 517.544,134.88 519.767,136.646 521.99,138.413 524.213,140.179 526.436,141.945 528.659,143.712 530.882,145.478 533.105,147.244 535.328,149.011 537.551,150.777 539.774,152.544 541.997,154.31 544.22,156.076 546.443,158.741 548.666,161.405 550.889,164.07 553.111,166.734 555.334,169.399 557.557,172.063 559.78,174.728 562.003,177.393 564.226,180.057 566.449,182.722 568.672,185.386 570.895,188.051 573.118,188.949 575.341,189.847 577.564,190.745 579.787,191.643 582.01,192.541 584.233,192.721 586.456,192.901 588.679,193.08 590.902,193.26 593.125,193.44 595.347,193.619 597.57,193.799 599.793,193.979 602.016,194.158 604.239,194.338 606.462,194.517 608.685,194.697 610.908,194.877 613.131,194.158 615.354,193.44 617.577,192.721 619.8,191.074 622.023,189.428 624.246,187.781 626.469,186.135 628.692,184.488 630.915,182.841 633.138,181.195 635.361,179.548 637.583,177.902 639.806,176.255 642.029,174.608 644.252,172.962 646.475,171.315 648.698,169.668 650.921,168.74 653.144,168.082 655.367,167.423 657.59,166.764 659.813,166.106 662.036,165.447 664.259,164.788 666.482,164.13 668.705,163.471 670.928,162.812 673.151,162.154 675.374,161.495 677.597,160.837 679.819,160.178 682.042,159.519 684.265,158.322 686.488,158.052 688.711,157.783 690.934,157.513 693.157,157.244 695.38,156.974 697.603,156.705 699.826,156.436 702.049,156.166 704.272,155.897 706.495,155.627 708.718,155.358 710.941,155.088 713.164,154.34 715.387,153.591 717.61,152.843 719.833,151.825 722.055,150.807 724.278,149.789 726.501,148.771 728.724,147.753 730.947,146.735 733.17,145.718 735.393,144.7 737.616,143.682 739.839,143.083 742.062,142.484 744.285,141.885 746.508,141.287 748.731,140.688 750.954,140.628 753.177,140.568 755.4,140.508 757.623,140.448 759.846,140.388 762.069,140.329 764.291,140.957 766.514,141.586 768.737,142.215 770.96,142.843 773.183,143.472 775.406,144.101 777.629,144.73 779.852,145.837 782.075,146.945 784.298,148.053 786.521,148.771 788.744,149.49 790.967,150.208 793.19,150.927 795.413,151.645 797.636,152.364 799.859,153.082 802.082,153.801 804.304,154.519 806.527,154.729 808.75,154.939 810.973,155.148 813.196,155.358 815.419,155.567 817.642,155.777 819.865,155.986 822.088,156.196 824.311,156.466 826.534,156.735 828.757,157.004 830.98,156.585 833.203,156.166 835.426,155.747 837.649,155.328 839.872,154.31 842.095,153.292 844.318,152.274 846.54,151.256 848.763,150.238 850.986,149.22 853.209,149.969 855.432,150.717 857.655,151.466 859.878,152.214 862.101,152.963 864.324,153.472 866.547,153.981 868.77,154.49 870.993,154.999 873.216,158.771 875.439,162.543 877.662,166.315 879.885,169.579 882.108,172.842 884.331,177.063"/>
<polyline fill="none" stroke="#800080" stroke-width="1.099" stroke-linejoin="round" stroke-linecap="square" points="350.823,139.685 353.046,139.071 355.269,138.457 357.492,137.844 359.715,137.23 361.938,136.616 364.161,136.002 366.384,135.389 368.607,134.775 370.83,134.161 373.053,133.817 375.276,133.473 377.499,133.128 379.722,132.784 381.945,132.44 384.167,132.096 386.39,131.751 388.613,131.407 390.836,131.063 393.059,130.718 395.282,130.374 397.505,130.03 399.728,129.685 401.951,129.341 404.174,128.997 406.397,129.042 408.62,129.087 410.843,129.132 413.066,129.177 415.289,129.221 417.512,129.266 419.735,129.117 421.958,128.967 424.181,128.817 426.403,128.668 428.626,128.518 430.849,128.368 433.072,128.218 435.295,128.069 437.518,127.919 439.741,127.769 441.964,127.62 444.187,127.47 446.41,127.32 448.633,127.171 450.856,127.021 453.079,126.871 455.302,126.722 457.525,126.796 459.748,126.871 461.971,126.946 464.194,127.021 466.417,127.096 468.639,127.171 470.862,127.245 473.085,127.32 475.308,127.395 477.531,127.47 479.754,127.545 481.977,127.62 484.2,127.695 486.423,127.769 488.646,127.844 490.869,127.919 493.092,127.994 495.315,128.069 497.538,128.144 499.761,128.218 501.984,128.293 504.207,128.368 506.43,129.057 508.653,129.745 510.875,130.434 513.098,131.123 515.321,131.811 517.544,132.5 519.767,133.188 521.99,133.877 524.213,134.565 526.436,135.254 528.659,135.943 530.882,136.631 533.105,137.32 535.328,138.008 537.551,138.697 539.774,139.386 541.997,140.074 544.22,140.763 546.443,141.9 548.666,143.038 550.889,144.176 553.111,145.508 555.334,146.84 557.557,148.173 559.78,149.505 562.003,150.837 564.226,152.169 566.449,153.502 568.672,154.834 570.895,156.166 573.118,157.498 575.341,158.831 577.564,160.163 579.787,161.495 582.01,162.827 584.233,163.8 586.456,164.773 588.679,165.746 590.902,166.719 593.125,167.692 595.347,168.665 597.57,169.638 599.793,170.611 602.016,171.584 604.239,172.557 606.462,173.53 608.685,174.503 610.908,175.476 613.131,176.449 615.354,177.422 617.577,178.396 619.8,178.904 622.023,179.413 624.246,179.922 626.469,180.431 628.692,180.94 630.915,181.449 633.138,181.958 635.361,182.467 637.583,182.976 639.806,182.602 642.029,182.228 644.252,181.853 646.475,181.479 648.698,181.105 650.921,180.731 653.144,180.491 655.367,180.252 657.59,180.012 659.813,179.773 662.036,179.533 664.259,179.294 666.482,179.054 668.705,178.815 670.928,178.575 673.151,178.336 675.374,178.096 677.597,177.857 679.819,177.168 682.042,176.479 684.265,175.521 686.488,174.563 688.711,173.605 690.934,172.647 693.157,171.689 695.38,170.731 697.603,169.773 699.826,168.815 702.049,167.857 704.272,166.899 706.495,165.941 708.718,164.983 710.941,164.025 713.164,162.827 715.387,161.63 717.61,160.792 719.833,159.953 722.055,159.115 724.278,158.277 726.501,157.439 728.724,156.6 730.947,155.762 733.17,154.924 735.393,154.085 737.616,153.247 739.839,152.618 742.062,151.99 744.285,151.361 746.508,150.732 748.731,150.104 750.954,149.475 753.177,149.31 755.4,149.146 757.623,148.981 759.846,148.816 762.069,148.652 764.291,148.831 766.514,149.011 768.737,149.19 770.96,149.37 773.183,149.55 775.406,149.729 777.629,149.909 779.852,150.089 782.075,150.268 784.298,150.448 786.521,150.298 788.744,150.148 790.967,149.999 793.19,149.849 795.413,149.699 797.636,149.55 799.859,149.4 802.082,149.25 804.304,149.101 806.527,148.906 808.75,148.711 810.973,148.517 813.196,148.322 815.419,148.128 817.642,148.202 819.865,148.277 822.088,148.352 824.311,148.457 826.534,148.562 828.757,148.667 830.98,148.771 833.203,148.876 835.426,148.981 837.649,149.086 839.872,148.891 842.095,148.696 844.318,148.502 846.54,148.547 848.763,148.592 850.986,148.637 853.209,149.37 855.432,150.104 857.655,150.837 859.878,151.571 862.101,152.304 864.324,152.918 866.547,153.532 868.77,154.145 870.993,154.759 873.216,156.75 875.439,158.741 877.662,160.732 879.885,162.468 882.108,164.205 884.331,166.42"/>
</g>
<g clip-path="url(#c2)" stroke="#b0b0b0" stroke-width="1.111" stroke-dasharray="7.111 1.778 1.111 1.778" fill="none">
<path d="M220.5 472.5V357.5"/>
<path d="M331.5 472.5V357.5"/>
<path d="M442.5 472.5V357.5"/>
<path d="M553.5 472.5V357.5"/>
<path d="M664.5 472.5V357.5"/>
<path d="M775.5 472.5V357.5"/>
<path d="M887.5 472.5V357.5"/>
<path d="M184.5 433.5H920.5"/>
<path d="M184.5 392.5H920.5"/>
</g>
<g clip-path="url(#c2)" stroke="#1f77b4" stroke-width="0.903" stroke-linejoin="miter">
<path fill="#008000" d="M219.5 474.5H221.5V414.5H219.5Z"/>
<path fill="#008000" d="M221.5 474.5H223.5V414.5H221.5Z"/>
<path fill="#008000" d="M223.5 474.5H225.5V414.5H223.5Z"/>
<path fill="#008000" d="M225.5 474.5H227.5V414.5H225.5Z"/>
<path fill="#008000" d="M228.5 474.5H229.5V414.5H228.5Z"/>
<path fill="#008000" d="M230.5 474.5H232.5V414.5H230.5Z"/>
<path fill="#008000" d="M232.5 474.5H234.5V414.5H232.5Z"/>
<path fill="#008000" d="M234.5 474.5H236.5V414.5H234.5Z"/>
<path fill="#008000" d="M237.5 474.5H238.5V414.5H237.5Z"/>
<path fill="#008000" d="M239.5 474.5H241.5V414.5H239.5Z"/>
<path fill="#008000" d="M241.5 474.5H243.5V414.5H241.5Z"/>
<path fill="#008000" d="M243.5 474.5H245.5V414.5H243.5Z"/>
<path fill="#008000" d="M245.5 474.5H247.5V414.5H245.5Z"/>
<path fill="#008000" d="M248.5 474.5H249.5V414.5H248.5Z"/>
<path fill="#008000" d="M250.5 474.5H252.5V414.5H250.5Z"/>
<path fill="#008000" d="M252.5 474.5H254.5V414.5H252.5Z"/>
<path fill="#008000" d="M254.5 474.5H256.5V414.5H254.5Z"/>
<path fill="#008000" d="M257.5 474.5H258.5V414.5H257.5Z"/>
<path fill="#008000" d="M259.5 474.5H261.5V414.5H259.5Z"/>
<path fill="#008000" d="M261.5 474.5H263.5V414.5H261.5Z"/>
<path fill="#008000" d="M263.5 474.5H265.5V414.5H263.5Z"/>
<path fill="#008000" d="M265.5 474.5H267.5V414.5H265.5Z"/>
<path fill="#008000" d="M268.5 474.5H269.5V414.5H268.5Z"/>
<path fill="#008000" d="M270.5 474.5H272.5V414.5H270.5Z"/>
<path fill="#008000" d="M272.5 474.5H274.5V425.5H272.5Z"/>
<path fill="#008000" d="M274.5 474.5H276.5V425.5H274.5Z"/>
<path fill="#008000" d="M277.5 474.5H278.5V425.5H277.5Z"/>
<path fill="#008000" d="M279.5 474.5H281.5V425.5H279.5Z"/>
<path fill="#008000" d="M281.5 474.5H283.5V425.5H281.5Z"/>
<path fill="#008000" d="M283.5 474.5H285.5V425.5H283.5Z"/>
<path fill="#008000" d="M285.5 474.5H287.5V425.5H285.5Z"/>
<path fill="#008000" d="M288.5 474.5H289.5V425.5H288.5Z"/>
<path fill="#008000" d="M290.5 474.5H292.5V425.5H290.5Z"/>
<path fill="#008000" d="M292.5 474.5H294.5V425.5H292.5Z"/>
<path fill="#008000" d="M294.5 474.5H296.5V425.5H294.5Z"/>
<path fill="#008000" d="M297.5 474.5H298.5V425.5H297.5Z"/>
<path fill="#008000" d="M299.5 474.5H301.5V425.5H299.5Z"/>
<path fill="#008000" d="M301.5 474.5H303.5V425.5H301.5Z"/>
<path fill="#008000" d="M303.5 474.5H305.5V425.5H303.5Z"/>
<path fill="#008000" d="M305.5 474.5H307.5V425.5H305.5Z"/>
<path fill="#008000" d="M308.5 474.5H310.5V425.5H308.5Z"/>
<path fill="#008000" d="M310.5 474.5H312.5V425.5H310.5Z"/>
<path fill="#008000" d="M312.5 474.5H314.5V425.5H312.5Z"/>
<path fill="#008000" d="M314.5 474.5H316.5V425.5H314.5Z"/>
<path fill="#008000" d="M317.5 474.5H318.5V425.5H317.5Z"/>
<path fill="#008000" d="M319.5 474.5H321.5V425.5H319.5Z"/>
<path fill="#008000" d="M321.5 474.5H323.5V425.5H321.5Z"/>
<path fill="#008000" d="M323.5 474.5H325.5V448.5H323.5Z"/>
<path fill="#008000" d="M325.5 474.5H327.5V448.5H325.5Z"/>
<path fill="#008000" d="M328.5 474.5H330.5V448.5H328.5Z"/>
<path fill="#008000" d="M330.5 474.5H332.5V448.5H330.5Z"/>
<path fill="#008000" d="M332.5 474.5H334.5V448.5H332.5Z"/>
<path fill="#008000" d="M334.5 474.5H336.5V448.5H334.5Z"/>
<path fill="#008000" d="M337.5 474.5H338.5V448.5H337.5Z"/>
<path fill="#008000" d="M339.5 474.5H341.5V448.5H339.5Z"/>
<path fill="#008000" d="M341.5 474.5H343.5V448.5H341.5Z"/>
<path fill="#008000" d="M343.5 474.5H345.5V448.5H343.5Z"/>
<path fill="#008000" d="M345.5 474.5H347.5V448.5H345.5Z"/>
<path fill="#008000" d="M348.5 474.5H350.5V448.5H348.5Z"/>
<path fill="#008000" d="M350.5 474.5H352.5V448.5H350.5Z"/>
<path fill="#008000" d="M352.5 474.5H354.5V448.5H352.5Z"/>
<path fill="#008000" d="M354.5 474.5H356.5V448.5H354.5Z"/>
<path fill="#008000" d="M357.5 474.5H358.5V448.5H357.5Z"/>
<path fill="#008000" d="M359.5 474.5H361.5V448.5H359.5Z"/>
<path fill="#008000" d="M361.5 474.5H363.5V448.5H361.5Z"/>
<path fill="#008000" d="M363.5 474.5H365.5V448.5H363.5Z"/>
<path fill="#008000" d="M365.5 474.5H367.5V448.5H365.5Z"/>
<path fill="#008000" d="M368.5 474.5H370.5V448.5H368.5Z"/>
<path fill="#008000" d="M370.5 474.5H372.5V448.5H370.5Z"/>
<path fill="#ff0000" d="M372.5 474.5H374.5V451.5H372.5Z"/>
<path fill="#ff0000" d="M374.5 474.5H376.5V451.5H374.5Z"/>
<path fill="#ff0000" d="M377.5 474.5H378.5V451.5H377.5Z"/>
<path fill="#ff0000" d="M379.5 474.5H381.5V451.5H379.5Z"/>
<path fill="#ff0000" d="M381.5 474.5H383.5V451.5H381.5Z"/>
<path fill="#ff0000" d="M383.5 474.5H385.5V451.5H383.5Z"/>
<path fill="#ff0000" d="M385.5 474.5H387.5V451.5H385.5Z"/>
<path fill="#ff0000" d="M388.5 474.5H390.5V451.5H388.5Z"/>
<path fill="#ff0000" d="M390.5 474.5H392.5V451.5H390.5Z"/>
<path fill="#ff0000" d="M392.5 474.5H394.5V451.5H392.5Z"/>
<path fill="#ff0000" d="M394.5 474.5H396.5V451.5H394.5Z"/>
<path fill="#ff0000" d="M397.5 474.5H398.5V451.5H397.5Z"/>
<path fill="#ff0000" d="M399.5 474.5H401.5V451.5H399.5Z"/>
<path fill="#ff0000" d="M401.5 474.5H403.5V451.5H401.5Z"/>
<path fill="#ff0000" d="M403.5 474.5H405.5V451.5H403.5Z"/>
<path fill="#ff0000" d="M405.5 474.5H407.5V451.5H405.5Z"/>
<path fill="#ff0000" d="M408.5 474.5H410.5V451.5H408.5Z"/>
<path fill="#ff0000" d="M410.5 474.5H412.5V451.5H410.5Z"/>
<path fill="#ff0000" d="M412.5 474.5H414.5V451.5H412.5Z"/>
<path fill="#ff0000" d="M414.5 474.5H416.5V451.5H414.5Z"/>
<path fill="#ff0000" d="M417.5 474.5H418.5V451.5H417.5Z"/>
<path fill="#008000" d="M419.5 474.5H421.5V447.5H419.5Z"/>
<path fill="#008000" d="M421.5 474.5H423.5V447.5H421.5Z"/>
<path fill="#008000" d="M423.5 474.5H425.5V447.5H423.5Z"/>
<path fill="#008000" d="M425.5 474.5H427.5V447.5H425.5Z"/>
<path fill="#008000" d="M428.5 474.5H430.5V447.5H428.5Z"/>
<path fill="#008000" d="M430.5 474.5H432.5V447.5H430.5Z"/>
<path fill="#008000" d="M432.5 474.5H434.5V447.5H432.5Z"/>
<path fill="#008000" d="M434.5 474.5H436.5V447.5H434.5Z"/>
<path fill="#008000" d="M437.5 474.5H438.5V447.5H437.5Z"/>
<path fill="#008000" d="M439.5 474.5H441.5V447.5H439.5Z"/>
<path fill="#008000" d="M441.5 474.5H443.5V447.5H441.5Z"/>
<path fill="#008000" d="M443.5 474.5H445.5V447.5H443.5Z"/>
<path fill="#008000" d="M445.5 474.5H447.5V447.5H445.5Z"/>
<path fill="#008000" d="M448.5 474.5H450.5V447.5H448.5Z"/>
<path fill="#008000" d="M450.5 474.5H452.5V447.5H450.5Z"/>
<path fill="#008000" d="M452.5 474.5H454.5V447.5H452.5Z"/>
<path fill="#008000" d="M454.5 474.5H456.5V447.5H454.5Z"/>
<path fill="#008000" d="M457.5 474.5H458.5V447.5H457.5Z"/>
<path fill="#008000" d="M459.5 474.5H461.5V447.5H459.5Z"/>
<path fill="#008000" d="M461.5 474.5H463.5V447.5H461.5Z"/>
<path fill="#ff0000" d="M463.5 474.5H465.5V458.5H463.5Z"/>
<path fill="#ff0000" d="M465.5 474.5H467.5V458.5H465.5Z"/>
<path fill="#ff0000" d="M468.5 474.5H470.5V458.5H468.5Z"/>
<path fill="#ff0000" d="M470.5 474.5H472.5V458.5H470.5Z"/>
<path fill="#ff0000" d="M472.5 474.5H474.5V458.5H472.5Z"/>
<path fill="#ff0000" d="M474.5 474.5H476.5V458.5H474.5Z"/>
<path fill="#ff0000" d="M477.5 474.5H478.5V458.5H477.5Z"/>
<path fill="#ff0000" d="M479.5 474.5H481.5V458.5H479.5Z"/>
<path fill="#ff0000" d="M481.5 474.5H483.5V458.5H481.5Z"/>
<path fill="#ff0000" d="M483.5 474.5H485.5V458.5H483.5Z"/>
<path fill="#ff0000" d="M486.5 474.5H487.5V458.5H486.5Z"/>
<path fill="#ff0000" d="M488.5 474.5H490.5V458.5H488.5Z"/>
<path fill="#ff0000" d="M490.5 474.5H492.5V458.5H490.5Z"/>
<path fill="#ff0000" d="M492.5 474.5H494.5V458.5H492.5Z"/>
<path fill="#ff0000" d="M494.5 474.5H496.5V458.5H494.5Z"/>
<path fill="#ff0000" d="M497.5 474.5H498.5V458.5H497.5Z"/>
<path fill="#ff0000" d="M499.5 474.5H501.5V458.5H499.5Z"/>
<path fill="#ff0000" d="M501.5 474.5H503.5V458.5H501.5Z"/>
<path fill="#ff0000" d="M503.5 474.5H505.5V458.5H503.5Z"/>
<path fill="#ff0000" d="M506.5 474.5H507.5V441.5H506.5Z"/>
<path fill="#ff0000" d="M508.5 474.5H510.5V441.5H508.5Z"/>
<path fill="#ff0000" d="M510.5 474.5H512.5V441.5H510.5Z"/>
<path fill="#ff0000" d="M512.5 474.5H514.5V441.5H512.5Z"/>
<path fill="#ff0000" d="M514.5 474.5H516.5V441.5H514.5Z"/>
<path fill="#ff0000" d="M517.5 474.5H518.5V441.5H517.5Z"/>
<path fill="#ff0000" d="M519.5 474.5H521.5V441.5H519.5Z"/>
<path fill="#ff0000" d="M521.5 474.5H523.5V441.5H521.5Z"/>
<path fill="#ff0000" d="M523.5 474.5H525.5V441.5H523.5Z"/>
<path fill="#ff0000" d="M526.5 474.5H527.5V441.5H526.5Z"/>
<path fill="#ff0000" d="M528.5 474.5H530.5V441.5H528.5Z"/>
<path fill="#ff0000" d="M530.5 474.5H532.5V441.5H530.5Z"/>
<path fill="#ff0000" d="M532.5 474.5H534.5V441.5H532.5Z"/>
<path fill="#ff0000" d="M534.5 474.5H536.5V441.5H534.5Z"/>
<path fill="#ff0000" d="M537.5 474.5H538.5V441.5H537.5Z"/>
<path fill="#ff0000" d="M539.5 474.5H541.5V441.5H539.5Z"/>
<path fill="#ff0000" d="M541.5 474.5H543.5V441.5H541.5Z"/>
<path fill="#ff0000" d="M543.5 474.5H545.5V441.5H543.5Z"/>
<path fill="#008000" d="M546.5 474.5H547.5V406.5H546.5Z"/>
<path fill="#008000" d="M548.5 474.5H550.5V406.5H548.5Z"/>
<path fill="#008000" d="M550.5 474.5H552.5V406.5H550.5Z"/>
<path fill="#008000" d="M552.5 474.5H554.5V406.5H552.5Z"/>
<path fill="#008000" d="M554.5 474.5H556.5V406.5H554.5Z"/>
<path fill="#008000" d="M557.5 474.5H558.5V406.5H557.5Z"/>
<path fill="#008000" d="M559.5 474.5H561.5V406.5H559.5Z"/>
<path fill="#008000" d="M561.5 474.5H563.5V406.5H561.5Z"/>
<path fill="#008000" d="M563.5 474.5H565.5V406.5H563.5Z"/>
<path fill="#008000" d="M566.5 474.5H567.5V406.5H566.5Z"/>
<path fill="#008000" d="M568.5 474.5H570.5V406.5H568.5Z"/>
<path fill="#008000" d="M570.5 474.5H572.5V406.5H570.5Z"/>
<path fill="#008000" d="M572.5 474.5H574.5V406.5H572.5Z"/>
<path fill="#008000" d="M574.5 474.5H576.5V406.5H574.5Z"/>
<path fill="#008000" d="M577.5 474.5H578.5V406.5H577.5Z"/>
<path fill="#008000" d="M579.5 474.5H581.5V406.5H579.5Z"/>
<path fill="#008000" d="M581.5 474.5H583.5V406.5H581.5Z"/>
<path fill="#008000" d="M583.5 474.5H585.5V453.5H583.5Z"/>
<path fill="#008000" d="M586.5 474.5H587.5V453.5H586.5Z"/>
<path fill="#008000" d="M588.5 474.5H590.5V453.5H588.5Z"/>
<path fill="#008000" d="M590.5 474.5H592.5V453.5H590.5Z"/>
<path fill="#008000" d="M592.5 474.5H594.5V453.5H592.5Z"/>
<path fill="#008000" d="M594.5 474.5H596.5V453.5H594.5Z"/>
<path fill="#008000" d="M597.5 474.5H598.5V453.5H597.5Z"/>
<path fill="#008000" d="M599.5 474.5H601.5V453.5H599.5Z"/>
<path fill="#008000" d="M601.5 474.5H603.5V453.5H601.5Z"/>
<path fill="#008000" d="M603.5 474.5H605.5V453.5H603.5Z"/>
<path fill="#008000" d="M606.5 474.5H607.5V453.5H606.5Z"/>
<path fill="#008000" d="M608.5 474.5H610.5V453.5H608.5Z"/>
<path fill="#008000" d="M610.5 474.5H612.5V453.5H610.5Z"/>
<path fill="#008000" d="M612.5 474.5H614.5V453.5H612.5Z"/>
<path fill="#008000" d="M614.5 474.5H616.5V453.5H614.5Z"/>
<path fill="#008000" d="M617.5 474.5H618.5V453.5H617.5Z"/>
<path fill="#008000" d="M619.5 474.5H621.5V450.5H619.5Z"/>
<path fill="#008000" d="M621.5 474.5H623.5V450.5H621.5Z"/>
<path fill="#008000" d="M623.5 474.5H625.5V450.5H623.5Z"/>
<path fill="#008000" d="M626.5 474.5H627.5V450.5H626.5Z"/>
<path fill="#008000" d="M628.5 474.5H630.5V450.5H628.5Z"/>
<path fill="#008000" d="M630.5 474.5H632.5V450.5H630.5Z"/>
<path fill="#008000" d="M632.5 474.5H634.5V450.5H632.5Z"/>
<path fill="#008000" d="M634.5 474.5H636.5V450.5H634.5Z"/>
<path fill="#008000" d="M637.5 474.5H639.5V450.5H637.5Z"/>
<path fill="#008000" d="M639.5 474.5H641.5V450.5H639.5Z"/>
<path fill="#008000" d="M641.5 474.5H643.5V450.5H641.5Z"/>
<path fill="#008000" d="M643.5 474.5H645.5V450.5H643.5Z"/>
<path fill="#008000" d="M646.5 474.5H647.5V450.5H646.5Z"/>
<path fill="#008000" d="M648.5 474.5H650.5V450.5H648.5Z"/>
<path fill="#008000" d="M650.5 474.5H652.5V450.5H650.5Z"/>
<path fill="#ff0000" d="M652.5 474.5H654.5V452.5H652.5Z"/>
<path fill="#ff0000" d="M654.5 474.5H656.5V452.5H654.5Z"/>
<path fill="#ff0000" d="M657.5 474.5H659.5V452.5H657.5Z"/>
<path fill="#ff0000" d="M659.5 474.5H661.5V452.5H659.5Z"/>
<path fill="#ff0000" d="M661.5 474.5H663.5V452.5H661.5Z"/>
<path fill="#ff0000" d="M663.5 474.5H665.5V452.5H663.5Z"/>
<path fill="#ff0000" d="M666.5 474.5H667.5V452.5H666.5Z"/>
<path fill="#ff0000" d="M668.5 474.5H670.5V452.5H668.5Z"/>
<path fill="#ff0000" d="M670.5 474.5H672.5V452.5H670.5Z"/>
<path fill="#ff0000" d="M672.5 474.5H674.5V452.5H672.5Z"/>
<path fill="#ff0000" d="M674.5 474.5H676.5V452.5H674.5Z"/>
<path fill="#ff0000" d="M677.5 474.5H679.5V452.5H677.5Z"/>
<path fill="#ff0000" d="M679.5 474.5H681.5V452.5H679.5Z"/>
<path fill="#ff0000" d="M681.5 474.5H683.5V452.5H681.5Z"/>
<path fill="#008000" d="M683.5 474.5H685.5V459.5H683.5Z"/>
<path fill="#008000" d="M686.5 474.5H687.5V459.5H686.5Z"/>
<path fill="#008000" d="M688.5 474.5H690.5V459.5H688.5Z"/>
<path fill="#008000" d="M690.5 474.5H692.5V459.5H690.5Z"/>
<path fill="#008000" d="M692.5 474.5H694.5V459.5H692.5Z"/>
<path fill="#008000" d="M694.5 474.5H696.5V459.5H694.5Z"/>
<path fill="#008000" d="M697.5 474.5H699.5V459.5H697.5Z"/>
<path fill="#008000" d="M699.5 474.5H701.5V459.5H699.5Z"/>
<path fill="#008000" d="M701.5 474.5H703.5V459.5H701.5Z"/>
<path fill="#008000" d="M703.5 474.5H705.5V459.5H703.5Z"/>
<path fill="#008000" d="M706.5 474.5H707.5V459.5H706.5Z"/>
<path fill="#008000" d="M708.5 474.5H710.5V459.5H708.5Z"/>
<path fill="#008000" d="M710.5 474.5H712.5V459.5H710.5Z"/>
<path fill="#008000" d="M712.5 474.5H714.5V459.5H712.5Z"/>
<path fill="#008000" d="M714.5 474.5H716.5V459.5H714.5Z"/>
<path fill="#008000" d="M717.5 474.5H719.5V459.5H717.5Z"/>
<path fill="#008000" d="M719.5 474.5H721.5V459.5H719.5Z"/>
<path fill="#008000" d="M721.5 474.5H723.5V459.5H721.5Z"/>
<path fill="#008000" d="M723.5 474.5H725.5V459.5H723.5Z"/>
<path fill="#008000" d="M726.5 474.5H727.5V459.5H726.5Z"/>
<path fill="#008000" d="M728.5 474.5H730.5V459.5H728.5Z"/>
<path fill="#008000" d="M730.5 474.5H732.5V459.5H730.5Z"/>
<path fill="#008000" d="M732.5 474.5H734.5V459.5H732.5Z"/>
<path fill="#008000" d="M734.5 474.5H736.5V459.5H734.5Z"/>
<path fill="#008000" d="M737.5 474.5H739.5V459.5H737.5Z"/>
<path fill="#ff0000" d="M739.5 474.5H741.5V458.5H739.5Z"/>
<path fill="#ff0000" d="M741.5 474.5H743.5V458.5H741.5Z"/>
<path fill="#ff0000" d="M743.5 474.5H745.5V458.5H743.5Z"/>
<path fill="#ff0000" d="M746.5 474.5H747.5V458.5H746.5Z"/>
<path fill="#ff0000" d="M748.5 474.5H750.5V458.5H748.5Z"/>
<path fill="#ff0000" d="M750.5 474.5H752.5V458.5H750.5Z"/>
<path fill="#ff0000" d="M752.5 474.5H754.5V458.5H752.5Z"/>
<path fill="#ff0000" d="M754.5 474.5H756.5V458.5H754.5Z"/>
<path fill="#ff0000" d="M757.5 474.5H759.5V458.5H757.5Z"/>
<path fill="#ff0000" d="M759.5 474.5H761.5V458.5H759.5Z"/>
<path fill="#ff0000" d="M761.5 474.5H763.5V458.5H761.5Z"/>
<path fill="#ff0000" d="M763.5 474.5H765.5V457.5H763.5Z"/>
<path fill="#ff0000" d="M766.5 474.5H767.5V457.5H766.5Z"/>
<path fill="#ff0000" d="M768.5 474.5H770.5V457.5H768.5Z"/>
<path fill="#ff0000" d="M770.5 474.5H772.5V457.5H770.5Z"/>
<path fill="#ff0000" d="M772.5 474.5H774.5V457.5H772.5Z"/>
<path fill="#ff0000" d="M774.5 474.5H776.5V457.5H774.5Z"/>
<path fill="#ff0000" d="M777.5 474.5H779.5V457.5H777.5Z"/>
<path fill="#ff0000" d="M779.5 474.5H781.5V457.5H779.5Z"/>
<path fill="#ff0000" d="M781.5 474.5H783.5V457.5H781.5Z"/>
<path fill="#ff0000" d="M783.5 474.5H785.5V457.5H783.5Z"/>
<path fill="#008000" d="M786.5 474.5H787.5V464.5H786.5Z"/>
<path fill="#008000" d="M788.5 474.5H790.5V464.5H788.5Z"/>
<path fill="#008000" d="M790.5 474.5H792.5V464.5H790.5Z"/>
<path fill="#008000" d="M792.5 474.5H794.5V464.5H792.5Z"/>
<path fill="#008000" d="M794.5 474.5H796.5V464.5H794.5Z"/>
<path fill="#008000" d="M797.5 474.5H799.5V464.5H797.5Z"/>
<path fill="#008000" d="M799.5 474.5H801.5V464.5H799.5Z"/>
<path fill="#008000" d="M801.5 474.5H803.5V464.5H801.5Z"/>
<path fill="#008000" d="M803.5 474.5H805.5V464.5H803.5Z"/>
<path fill="#008000" d="M806.5 474.5H807.5V465.5H806.5Z"/>
<path fill="#008000" d="M808.5 474.5H810.5V465.5H808.5Z"/>
<path fill="#008000" d="M810.5 474.5H812.5V465.5H810.5Z"/>
<path fill="#008000" d="M812.5 474.5H814.5V465.5H812.5Z"/>
<path fill="#008000" d="M815.5 474.5H816.5V465.5H815.5Z"/>
<path fill="#008000" d="M817.5 474.5H819.5V465.5H817.5Z"/>
<path fill="#008000" d="M819.5 474.5H821.5V465.5H819.5Z"/>
<path fill="#008000" d="M821.5 474.5H823.5V465.5H821.5Z"/>
<path fill="#008000" d="M823.5 474.5H825.5V464.5H823.5Z"/>
<path fill="#008000" d="M826.5 474.5H827.5V464.5H826.5Z"/>
<path fill="#008000" d="M828.5 474.5H830.5V464.5H828.5Z"/>
<path fill="#008000" d="M830.5 474.5H832.5V464.5H830.5Z"/>
<path fill="#008000" d="M832.5 474.5H834.5V464.5H832.5Z"/>
<path fill="#008000" d="M835.5 474.5H836.5V464.5H835.5Z"/>
<path fill="#008000" d="M837.5 474.5H839.5V464.5H837.5Z"/>
<path fill="#ff0000" d="M839.5 474.5H841.5V417.5H839.5Z"/>
<path fill="#ff0000" d="M841.5 474.5H843.5V417.5H841.5Z"/>
<path fill="#ff0000" d="M843.5 474.5H845.5V417.5H843.5Z"/>
<path fill="#ff0000" d="M846.5 474.5H847.5V417.5H846.5Z"/>
<path fill="#ff0000" d="M848.5 474.5H850.5V417.5H848.5Z"/>
<path fill="#ff0000" d="M850.5 474.5H852.5V417.5H850.5Z"/>
<path fill="#ff0000" d="M852.5 474.5H854.5V400.5H852.5Z"/>
<path fill="#ff0000" d="M855.5 474.5H856.5V400.5H855.5Z"/>
<path fill="#ff0000" d="M857.5 474.5H859.5V400.5H857.5Z"/>
<path fill="#ff0000" d="M859.5 474.5H861.5V400.5H859.5Z"/>
<path fill="#ff0000" d="M861.5 474.5H863.5V400.5H861.5Z"/>
<path fill="#ff0000" d="M863.5 474.5H865.5V448.5H863.5Z"/>
<path fill="#ff0000" d="M866.5 474.5H867.5V448.5H866.5Z"/>
<path fill="#ff0000" d="M868.5 474.5H870.5V448.5H868.5Z"/>
<path fill="#ff0000" d="M870.5 474.5H872.5V448.5H870.5Z"/>
<path fill="#ff0000" d="M872.5 474.5H874.5V367.5H872.5Z"/>
<path fill="#ff0000" d="M875.5 474.5H876.5V367.5H875.5Z"/>
<path fill="#ff0000" d="M877.5 474.5H879.5V367.5H877.5Z"/>
<path fill="#008000" d="M879.5 474.5H881.5V402.5H879.5Z"/>
<path fill="#008000" d="M881.5 474.5H883.5V402.5H881.5Z"/>
<path fill="#ff0000" d="M883.5 474.5H885.5V412.5H883.5Z"/>
</g>
<g fill="#000">
<rect x="183.944" y="68.944" width="1.111" height="289.111"/><rect x="919.944" y="68.944" width="1.111" height="289.111"/><rect x="183.944" y="356.944" width="737.111" height="1.111"/><rect x="183.944" y="68.944" width="737.111" height="1.111"/>
<rect x="183.944" y="356.944" width="1.111" height="116.111"/><rect x="919.944" y="356.944" width="1.111" height="116.111"/><rect x="183.944" y="471.944" width="737.111" height="1.111"/><rect x="183.944" y="356.944" width="737.111" height="1.111"/>
</g>
<g stroke="#000" stroke-width="1.111" fill="none">
<path d="M179.5 333.5H184.5M179.5 279.5H184.5M179.5 225.5H184.5M179.5 171.5H184.5M179.5 117.5H184.5M179.5 433.5H184.5M179.5 392.5H184.5M220.5 472.5V477.5M331.5 472.5V477.5M442.5 472.5V477.5M553.5 472.5V477.5M664.5 472.5V477.5M775.5 472.5V477.5M887.5 472.5V477.5"/>
</g>
<g font-family="'DejaVu Sans','Liberation Sans',sans-serif" font-size="13.889" fill="#000">
<text x="129.969 138.806 147.642 156.479 165.316" y="338">49300</text>
<text x="129.969 138.806 147.642 156.479 165.316" y="284">49400</text>
<text x="129.969 138.806 147.642 156.479 165.316" y="230">49500</text>
<text x="129.969 138.806 147.642 156.479 165.316" y="176">49600</text>
<text x="129.969 138.806 147.642 156.479 165.316" y="123">49700</text>
<text x="137.806 146.642 155.479 164.316" y="439">5000</text>
<text x="129.844 138.681 147.517 156.354 165.191" y="397">10000</text>
<text transform="translate(121.821 215.347) rotate(-90)" x="-16.941 -8.566 -3.099 0.76 8.396">Price</text>
<text transform="translate(120.665 416.187) rotate(-90)" x="-25.828 -16.327 -8.908 -5.05 3.753 17.283">Volume</text>
<text transform="translate(208.166 518.604) rotate(-45)" x="0 8.837 17.674 22.354 31.19">12:51</text>
<text transform="translate(319.074 518.638) rotate(-45)" x="0 8.837 17.674 22.354 31.19">12:57</text>
<text transform="translate(429.999 518.844) rotate(-45)" x="0 8.837 17.674 22.354 31.19">13:03</text>
<text transform="translate(541.13 518.64) rotate(-45)" x="0 8.837 17.674 22.354 31.19">13:12</text>
<text transform="translate(653.08 518.717) rotate(-45)" x="0 8.837 17.674 22.354 31.19">13:21</text>
<text transform="translate(764.037 518.812) rotate(-45)" x="0 8.837 17.674 22.354 31.19">13:33</text>
</g>
<text transform="translate(511.361 16) scale(0.996 1.03)" x="-282.383 -269.915 -259.311 -248.707 -238.103 -223.723 -212.085 -206.786 -196.182 -185.578 -179.564 -165.184 -160.553 -149.99 -139.426 -132.891 -122.637 -117.339 -105.701 -95.137 -84.923 -78.07 -71.535 -66.237 -59.734 -49.13 -38.526 -27.922 -17.318 -11.303 -0.699 9.905 15.919 26.523 37.128 42.426 53.03 63.634 69.25 79.854 90.458 104.423 115.027 125.632 131.247 141.852 152.456 158.958 164.257 170.271 175.569 189.949 201.35 206.648 216.845 227.409 232.707 245.24 254.525 266.163 271.779" font-family="'DejaVu Sans','Liberation Sans',sans-serif" font-size="16.667" fill="#000">N225MC 12-Minute Chart (2025-10-21 12:00~13:00) - MA on HLC/3</text>
</svg>
</body></html>
